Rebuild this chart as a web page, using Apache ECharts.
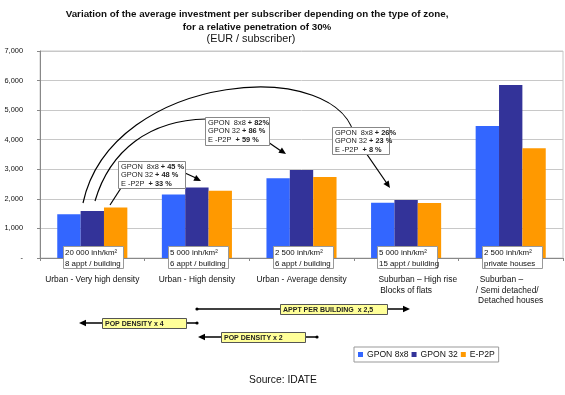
<!DOCTYPE html>
<html><head><meta charset="utf-8">
<script src="https://cdn.jsdelivr.net/npm/echarts@6/dist/echarts.min.js"></script>
<style>html,body{margin:0;padding:0;background:#fff}#c{width:565px;height:395px}</style>
</head><body><div id="c"></div>
<script>
const categories = [
  'Urban - Very high density',
  'Urban - High density',
  'Urban - Average density',
  '          Suburban – High rise\nBlocks of flats',
  'Suburban –        \n/ Semi detached/   \nDetached houses'
];
const seriesNames = ['GPON 8x8', 'GPON 32', 'E-P2P'];
const gpon8x8 = [1480, 2150, 2700, 1870, 4460];
const gpon32  = [1590, 2380, 2975, 1960, 5850];
const ep2p    = [1710, 2270, 2740, 1860, 3710];
const yTickLabels = ['-', '1,000', '2,000', '3,000', '4,000', '5,000', '6,000', '7,000'];
const zoneInfo = [
  '20 000 inh/km²\n8 appt / building',
  '5 000 inh/km²\n6 appt / building',
  '2 500 inh/km²\n6 appt / building',
  '5 000 inh/km²\n15 appt / building',
  '2 500 inh/km²\nprivate houses'
];
const gainBoxes = [
  ['GPON  8x8 ', '+ 45 %', 'GPON 32 ', '+ 48 %', 'E -P2P  ', '+ 33 %'],
  ['GPON  8x8 ', '+ 82%', 'GPON 32 ', '+ 86 %', 'E -P2P  ', '+ 59 %'],
  ['GPON  8x8 ', '+ 26%', 'GPON 32 ', '+ 23 %', 'E -P2P  ', '+ 8 %']
];
const bottomNotes = ['APPT PER BUILDING  x 2,5', 'POP DENSITY x 4', 'POP DENSITY x 2'];

const FONT = '"Liberation Sans", Arial, sans-serif';
const colors = ['#3366FF', '#333399', '#FF9900'];

const chart = echarts.init(document.getElementById('c'), null, {renderer: 'canvas'});
chart.setOption({
  animation: false,
  textStyle: {fontFamily: FONT},
  color: colors,
  title: [{
    text: 'Variation of the average investment per subscriber depending on the type of zone,\nfor a relative penetration of 30%',
    left: 257, top: 8, textAlign: 'center', padding: 0,
    textStyle: {fontFamily: FONT, fontSize: 9.8, fontWeight: 'bold', color: '#111', lineHeight: 13}
  }, {
    text: '(EUR / subscriber)',
    left: 251, top: 34, textAlign: 'center', padding: 0,
    textStyle: {fontFamily: FONT, fontSize: 10.8, fontWeight: 'normal', color: '#111'}
  }, {
    text: 'Source: IDATE',
    left: 283, top: 375, textAlign: 'center', padding: 0,
    textStyle: {fontFamily: FONT, fontSize: 10.3, fontWeight: 'normal', color: '#111'}
  }],
  legend: {
    data: seriesNames,
    left: 354, top: 347,
    icon: 'rect', itemWidth: 5, itemHeight: 5, itemGap: 3,
    padding: [3, 4, 3, 4],
    borderColor: '#999', borderWidth: 1, borderRadius: 0,
    textStyle: {fontFamily: FONT, fontSize: 8.6, color: '#111', padding: [0, 0, 0, -1]}
  },
  grid: {left: 40, right: 2, top: 51, bottom: 137, show: true, borderColor: '#c8c8c8', borderWidth: 1},
  xAxis: {
    type: 'category', data: categories,
    axisLine: {lineStyle: {color: '#888'}},
    axisTick: {show: true, length: 3, lineStyle: {color: '#888'}},
    axisLabel: {fontFamily: FONT, fontSize: 8.4, color: '#111', margin: 17, lineHeight: 10.2, interval: 0, verticalAlign: 'top'}
  },
  yAxis: {
    type: 'value', min: 0, max: 7000, interval: 1000,
    axisLine: {show: true, lineStyle: {color: '#888'}},
    axisTick: {show: true, length: 3, lineStyle: {color: '#888'}},
    splitLine: {lineStyle: {color: '#c8c8c8'}},
    axisLabel: {fontFamily: FONT, fontSize: 7.4, color: '#111', margin: 17,
      formatter: v => yTickLabels[Math.round(v / 1000)]}
  },
  series: [
    {name: seriesNames[0], type: 'bar', data: gpon8x8, barGap: '0%', barCategoryGap: '33%'},
    {name: seriesNames[1], type: 'bar', data: gpon32, barGap: '0%', barCategoryGap: '33%'},
    {name: seriesNames[2], type: 'bar', data: ep2p, barGap: '0%', barCategoryGap: '33%'}
  ]
});

function px(i, v) { return chart.convertToPixel({xAxisIndex: 0, yAxisIndex: 0}, [i, v]); }
const g = [];
const Z = 100;
function arrowHead(x, y, fx, fy, len, w) {
  len = len || 7; w = w || 3.2;
  const a = Math.atan2(y - fy, x - fx), c = Math.cos(a), s = Math.sin(a);
  g.push({type: 'polygon', z: Z + 2, shape: {points: [[x, y], [x - len * c + w * s, y - len * s - w * c], [x - len * c - w * s, y - len * s + w * c]]}, style: {fill: '#000'}});
}
function line(x1, y1, x2, y2, lw) {
  g.push({type: 'line', z: Z + 1, shape: {x1, y1, x2, y2}, style: {stroke: '#000', lineWidth: lw || 1.2}});
}
function curve(p0, c1, c2, p3) {
  g.push({type: 'bezierCurve', z: Z + 1, shape: {x1: p0[0], y1: p0[1], cpx1: c1[0], cpy1: c1[1], cpx2: c2[0], cpy2: c2[1], x2: p3[0], y2: p3[1]}, style: {stroke: '#000', lineWidth: 1.2, fill: null}});
}
function dot(x, y) { g.push({type: 'circle', z: Z + 2, shape: {cx: x, cy: y, r: 1.6}, style: {fill: '#000'}}); }

// zone info boxes at the foot of each group
zoneInfo.forEach((t, i) => {
  const p = px(i, 0);
  g.push({type: 'rect', z: Z + 5, shape: {x: Math.round(p[0] - 29) + 0.5, y: Math.round(p[1] - 12) + 0.5, width: 60, height: 22}, style: {fill: '#fff', stroke: '#999', lineWidth: 1}});
  g.push({type: 'text', z: Z + 6, x: Math.round(p[0] - 27), y: Math.round(p[1] - 10), style: {text: t, fontFamily: FONT, fontSize: 7.9, lineHeight: 10.5, fill: '#111', align: 'left', verticalAlign: 'top'}});
});

// curved arrows
curve([83, 203], [112, 70], [345, 55], [355, 140]);
line(366, 153, 388, 185); arrowHead(390, 188, 366, 153);
curve([95, 201], [110, 150], [150, 120], [206, 119]);
line(110, 205, 121, 188);
line(185, 173, 196, 178); arrowHead(201, 181, 185, 173);
line(268, 142, 281, 151); arrowHead(286, 154, 268, 142);

// gain boxes
function gainBox(x, y, w, h, rows) {
  g.push({type: 'rect', z: Z + 5, shape: {x: x + 0.5, y: y + 0.5, width: w, height: h}, style: {fill: '#fff', stroke: '#888', lineWidth: 1}});
  const txt = '{n|' + rows[0] + '}{b|' + rows[1] + '}\n{n|' + rows[2] + '}{b|' + rows[3] + '}\n{n|' + rows[4] + '}{b|' + rows[5] + '}';
  g.push({type: 'text', z: Z + 6, x: x + 3, y: y + 1.5, style: {text: txt, align: 'left', verticalAlign: 'top',
    rich: {n: {fontFamily: FONT, fontSize: 7.4, fill: '#222', lineHeight: 8.5}, b: {fontFamily: FONT, fontSize: 7.4, fontWeight: 'bold', fill: '#222', lineHeight: 8.5}}}});
}
gainBox(118, 161, 67, 27, gainBoxes[0]);
gainBox(205, 117, 64, 28, gainBoxes[1]);
gainBox(332, 127, 57, 27, gainBoxes[2]);

// bottom notes
function note(x, y, w, h, t) {
  g.push({type: 'rect', z: Z + 5, shape: {x: x + 0.5, y: y + 0.5, width: w, height: h}, style: {fill: '#FFFF99', stroke: '#555', lineWidth: 1}});
  g.push({type: 'text', z: Z + 6, x: x + 3, y: y + h / 2 + 1, style: {text: t, fontFamily: FONT, fontSize: 7, fontWeight: 'bold', fill: '#222', align: 'left', verticalAlign: 'middle'}});
}
line(197, 309, 404, 309, 1.3); dot(197, 309); arrowHead(410, 309, 300, 309);
note(280, 304, 107, 10, bottomNotes[0]);
line(86, 323, 197, 323, 1.3); dot(197, 323); arrowHead(79, 323, 150, 323);
note(102, 318, 84, 10, bottomNotes[1]);
line(205, 337, 317, 337, 1.3); dot(317, 337); arrowHead(198, 337, 260, 337);
note(221, 332, 84, 10, bottomNotes[2]);

chart.setOption({graphic: {elements: g}});
</script></body></html>
